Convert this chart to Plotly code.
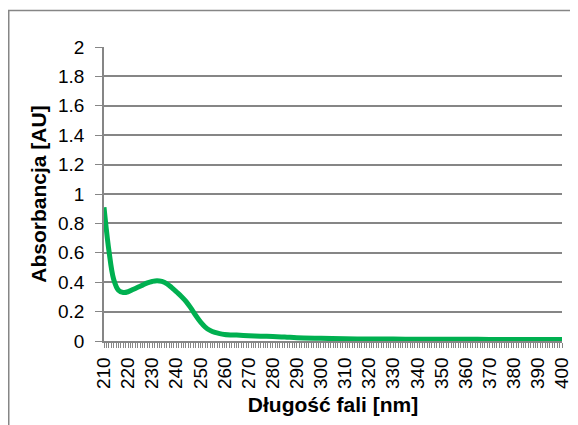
import plotly.graph_objects as go

# widmo absorpcji
wavelength = [210, 212, 214, 216, 218, 220, 222, 224, 226, 228, 230, 232, 234, 236,
              238, 240, 242, 244, 246, 248, 250, 252, 254, 256, 258, 260, 265, 270,
              275, 280, 285, 290, 300, 310, 320, 330, 340, 350, 360, 370, 380, 390, 400]
absorbance = [0.91, 0.62, 0.42, 0.345, 0.33, 0.335, 0.35, 0.365, 0.38, 0.395, 0.405,
              0.41, 0.405, 0.39, 0.365, 0.335, 0.305, 0.27, 0.225, 0.175, 0.13, 0.095,
              0.072, 0.058, 0.05, 0.045, 0.04, 0.036, 0.033, 0.03, 0.027, 0.022, 0.018,
              0.015, 0.014, 0.013, 0.012, 0.012, 0.012, 0.011, 0.011, 0.01, 0.01]

y_ticks = [0, 0.2, 0.4, 0.6, 0.8, 1, 1.2, 1.4, 1.6, 1.8, 2]
y_labels = ["0", "0.2", "0.4", "0.6", "0.8", "1", "1.2", "1.4", "1.6", "1.8", "2"]
x_ticks = list(range(210, 401, 10))

gray = "#868686"

# strona ma 8 px marginesu, wiec figura jest mniejsza
W, H = 570, 417
L, R, T, B = 96, 16, 39, 84
pw, ph = W - L - R, H - T - B

fig = go.Figure()
fig.add_trace(go.Scatter(x=wavelength, y=absorbance, mode="lines",
                         line=dict(color="#00b050", width=5, shape="spline"),
                         showlegend=False))

fig.update_layout(
    width=W, height=H,
    margin=dict(l=L, r=R, t=T, b=B),
    paper_bgcolor="white", plot_bgcolor="white",
    font=dict(family="Liberation Sans, Arial, sans-serif", size=19, color="black"),
    xaxis=dict(range=[210, 400], tickvals=x_ticks, tickangle=-90, automargin=False,
               showgrid=False, showline=True, linecolor=gray, linewidth=1.5,
               ticks="outside", ticklen=5, tickcolor=gray, ticklabelstandoff=2,
               minor=dict(dtick=1, tick0=210, ticks="outside", ticklen=5, tickcolor=gray,
                          showgrid=False),
               title=dict(text="<b>Długość fali [nm]</b>", font=dict(size=21), standoff=9)),
    yaxis=dict(range=[0, 2], tickvals=y_ticks, ticktext=y_labels, automargin=False,
               showgrid=True, gridcolor=gray, gridwidth=1.5,
               showline=True, linecolor=gray, linewidth=1.5,
               ticks="outside", ticklen=7, tickcolor=gray, zeroline=False,
               ticklabelstandoff=7,
               title=dict(text="<b>Absorbancja [AU]</b>", font=dict(size=21), standoff=6)),
)

# ramka wykresu (bez prawej krawedzi)
fig.add_shape(type="rect", xref="paper", yref="paper",
              x0=(0.75 - L) / pw, x1=(W + 20 - L) / pw,
              y0=(T + ph - (H + 20)) / ph, y1=(T + ph - 2.5) / ph,
              line=dict(color=gray, width=1.5), layer="below")

fig.write_html("out.html")
